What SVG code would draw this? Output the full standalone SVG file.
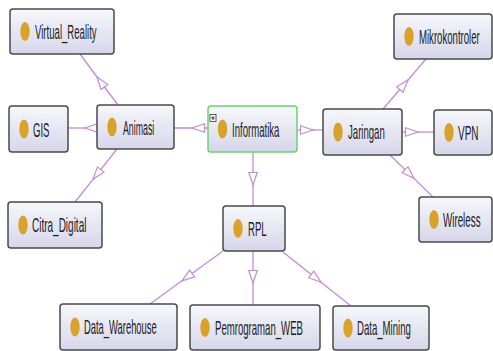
<svg xmlns="http://www.w3.org/2000/svg" width="493" height="351" viewBox="0 0 493 351">
<defs>
<linearGradient id="g" x1="0" y1="0" x2="0" y2="1">
<stop offset="0" stop-color="#f7f7fc"/>
<stop offset="1" stop-color="#d6d6ea"/>
</linearGradient>
<marker id="tri" viewBox="0 0 14 10" refX="13" refY="5" markerWidth="14" markerHeight="10" markerUnits="userSpaceOnUse" orient="auto" overflow="visible">
<path d="M0.5,0.8 L13,5 L0.5,9.2 Z" fill="#ffffff" stroke="#c48bd6" stroke-width="1.2"/>
</marker>
</defs>
<style>
.box{fill:url(#g);stroke:#4a4a4a;stroke-width:1.5}
.root{fill:url(#g);stroke:#6fd06f;stroke-width:1.5}
.dot{fill:#d9a22a}
.lbl{font-family:"Liberation Sans",Arial,sans-serif;font-size:20px;fill:#222}
.c path{fill:none;stroke:#c48bd6;stroke-width:1.3;marker-mid:url(#tri)}
</style>
<rect width="493" height="351" fill="#ffffff"/>
<g class="c" id="connectors">
<path d="M208,128 L192,128 L174,128"/>
<path d="M97,128 L85,128 L68,128"/>
<path d="M118,105 L97,77 L80,54"/>
<path d="M117,149 L93,179.3 L75,202"/>
<path d="M297,130 L313,130 L323,130"/>
<path d="M402,132 L418,132 L434,132"/>
<path d="M383,109 L408,80 L426,59"/>
<path d="M390,155 L414,178.4 L433,197"/>
<path d="M253,152 L253,185 L253,206"/>
<path d="M253,251 L253,283 L253,305"/>
<path d="M283,252 L321,282.2 L351,306"/>
<path d="M223,251 L182,280.8 L150,304"/>
</g>
<g id="Virtual_Reality">
<rect class="box" x="10" y="9" width="104" height="45" rx="3"/>
<ellipse class="dot" cx="25" cy="31.5" rx="4.7" ry="9.5"/>
<text class="lbl" transform="translate(35,39) scale(0.48,1)">Virtual_Reality</text>
</g>
<g id="GIS">
<rect class="box" x="9" y="106" width="59" height="46" rx="3"/>
<ellipse class="dot" cx="24" cy="129" rx="4.7" ry="9.5"/>
<text class="lbl" transform="translate(33,136.5) scale(0.48,1)">GIS</text>
</g>
<g id="Animasi">
<rect class="box" x="97" y="105" width="77" height="44" rx="3"/>
<ellipse class="dot" cx="112" cy="127" rx="4.7" ry="9.5"/>
<text class="lbl" transform="translate(123,134.5) scale(0.44,1)">Animasi</text>
</g>
<g id="Informatika">
<rect class="root" x="208" y="106" width="89" height="46" rx="3"/>
<rect x="210" y="114.5" width="6" height="7" fill="#ffffff" stroke="#333" stroke-width="0.8"/>
<path d="M211.3,118 L214.7,118 M213,116 L213,120" stroke="#222" stroke-width="0.9"/>
<ellipse class="dot" cx="222.5" cy="129" rx="4.7" ry="9.5"/>
<text class="lbl" transform="translate(232,136.5) scale(0.48,1)">Informatika</text>
</g>
<g id="Jaringan">
<rect class="box" x="323" y="109" width="79" height="46" rx="3"/>
<ellipse class="dot" cx="338" cy="132" rx="4.7" ry="9.5"/>
<text class="lbl" transform="translate(348,138.5) scale(0.48,1)">Jaringan</text>
</g>
<g id="Mikrokontroler">
<rect class="box" x="394" y="14" width="98" height="45" rx="3"/>
<ellipse class="dot" cx="409" cy="36.5" rx="4.7" ry="9.5"/>
<text class="lbl" transform="translate(419,43.5) scale(0.48,1)">Mikrokontroler</text>
</g>
<g id="VPN">
<rect class="box" x="434" y="110" width="58" height="45" rx="3"/>
<ellipse class="dot" cx="449" cy="132.5" rx="4.7" ry="9.5"/>
<text class="lbl" transform="translate(458,139.5) scale(0.5,1)">VPN</text>
</g>
<g id="Wireless">
<rect class="box" x="419" y="197" width="73" height="45" rx="3"/>
<ellipse class="dot" cx="434" cy="219.5" rx="4.7" ry="9.5"/>
<text class="lbl" transform="translate(443,226.5) scale(0.49,1)">Wireless</text>
</g>
<g id="Citra_Digital">
<rect class="box" x="8" y="202" width="94" height="46" rx="3"/>
<ellipse class="dot" cx="23" cy="225" rx="4.7" ry="9.5"/>
<text class="lbl" transform="translate(32,231.5) scale(0.5,1)">Citra_Digital</text>
</g>
<g id="RPL">
<rect class="box" x="223" y="206" width="62" height="45" rx="3"/>
<ellipse class="dot" cx="238" cy="228.5" rx="4.7" ry="9.5"/>
<text class="lbl" transform="translate(248,235.5) scale(0.48,1)">RPL</text>
</g>
<g id="Data_Warehouse">
<rect class="box" x="60" y="304" width="117" height="46" rx="3"/>
<ellipse class="dot" cx="75" cy="327" rx="4.7" ry="9.5"/>
<text class="lbl" transform="translate(84,334) scale(0.47,1)">Data_Warehouse</text>
</g>
<g id="Pemrograman_WEB">
<rect class="box" x="190" y="305" width="130" height="45" rx="3"/>
<ellipse class="dot" cx="205" cy="327.5" rx="4.7" ry="9.5"/>
<text class="lbl" transform="translate(215,334.5) scale(0.48,1)">Pemrograman_WEB</text>
</g>
<g id="Data_Mining">
<rect class="box" x="333" y="306" width="96" height="44" rx="3"/>
<ellipse class="dot" cx="348" cy="328" rx="4.7" ry="9.5"/>
<text class="lbl" transform="translate(357,335) scale(0.48,1)">Data_Mining</text>
</g>
</svg>
